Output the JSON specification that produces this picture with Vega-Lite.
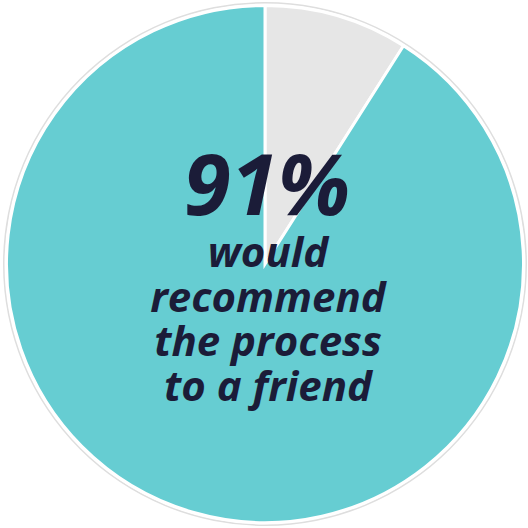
{
  "$schema": "https://vega.github.io/schema/vega-lite/v6.json",
  "autosize": {"type": "fit", "contains": "padding"},
  "width": 528,
  "height": 528,
  "padding": {"left": 2, "top": 0, "right": 0, "bottom": 0},
  "background": "white",
  "view": {"stroke": null},
  "datasets": {
    "slices": [
      {"answer": "Would not recommend", "share": 9, "rank": 1},
      {"answer": "Would recommend", "share": 91, "rank": 2}
    ],
    "label": [
      {"big": "91%", "small": "would\nrecommend\nthe process\nto a friend"}
    ]
  },
  "resolve": {"scale": {"theta": "independent"}},
  "layer": [
    {
      "data": {"values": [{"v": 1}]},
      "mark": {"type": "arc", "innerRadius": 260.5, "outerRadius": 262, "color": "#dedede"},
      "encoding": {"theta": {"field": "v", "type": "quantitative"}}
    },
    {
      "data": {"name": "slices"},
      "mark": {"type": "arc", "outerRadius": 258.5, "stroke": "white", "strokeWidth": 3},
      "encoding": {
        "theta": {"field": "share", "type": "quantitative", "stack": true},
        "order": {"field": "rank", "type": "ordinal"},
        "color": {
          "field": "answer",
          "type": "nominal",
          "scale": {"domain": ["Would not recommend", "Would recommend"], "range": ["#e6e6e6", "#66cdd2"]},
          "legend": null
        }
      }
    },
    {
      "data": {"name": "label"},
      "mark": {"type": "text", "font": "Open Sans", "fontSize": 85, "fontWeight": "bold", "fontStyle": "italic", "color": "#1b1c38", "align": "center", "baseline": "alphabetic", "dy": -49, "dx": 2},
      "encoding": {"text": {"field": "big"}}
    },
    {
      "data": {"name": "label"},
      "mark": {"type": "text", "font": "Open Sans", "fontSize": 42, "fontWeight": "bold", "fontStyle": "italic", "color": "#1b1c38", "align": "center", "baseline": "alphabetic", "lineBreak": "\n", "lineHeight": 44.5, "dy": 3, "dx": 3},
      "encoding": {"text": {"field": "small"}}
    }
  ]
}
